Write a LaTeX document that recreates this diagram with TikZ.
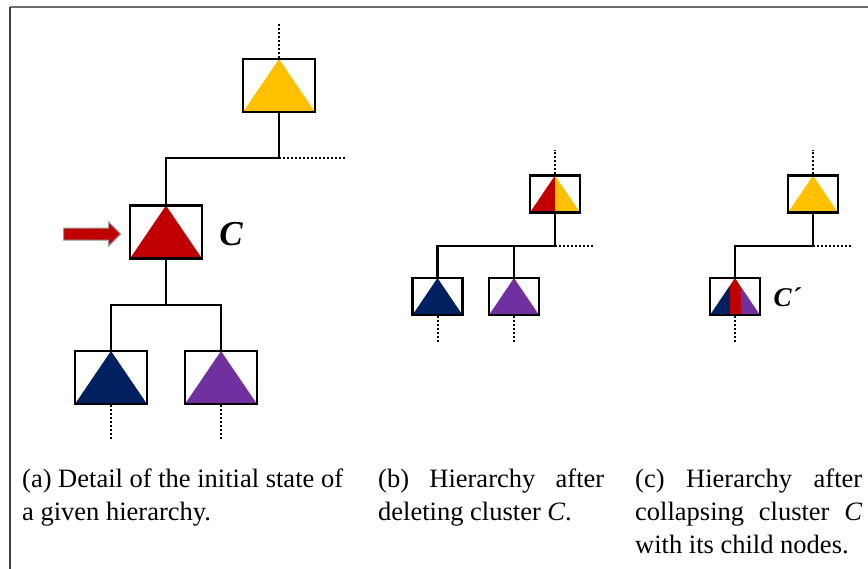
\documentclass[tikz,border=0pt]{standalone}
\usepackage{fontspec}
\setmainfont{Liberation Serif}
\definecolor{clYellow}{HTML}{FFC000}
\definecolor{clRed}{HTML}{C00000}
\definecolor{clBlue}{HTML}{002060}
\definecolor{clPurple}{HTML}{7030A0}

\tikzset{
  box/.style={draw=black, line width=#1, fill=white, inner sep=0pt},
  bigbox/.style={box=2.8pt, minimum width=72pt, minimum height=53pt},
  smallbox/.style={box=2.3pt, minimum width=50pt, minimum height=37pt},
  tri/.style={path picture={
      \fill[#1] (path picture bounding box.south west) -- (path picture bounding box.south east)
        -- (path picture bounding box.north) -- cycle;}},
  trisplit/.style={path picture={
      \fill[clRed] (path picture bounding box.south west) -- (path picture bounding box.south)
        -- (path picture bounding box.north) -- cycle;
      \fill[clYellow] (path picture bounding box.south) -- (path picture bounding box.south east)
        -- (path picture bounding box.north) -- cycle;}},
  trimerged/.style={path picture={
      \begin{scope}
        \clip (path picture bounding box.south west) -- (path picture bounding box.south east)
          -- (path picture bounding box.north) -- cycle;
        \fill[clBlue] (path picture bounding box.south west) rectangle ([xshift=-5pt]path picture bounding box.north);
        \fill[clRed] ([xshift=-5pt]path picture bounding box.south) rectangle ([xshift=6pt]path picture bounding box.north);
        \fill[clPurple] ([xshift=6pt]path picture bounding box.south) rectangle (path picture bounding box.north east);
      \end{scope}}},
  edgeA/.style={line width=2.8pt, line cap=rect},
  edgeB/.style={line width=2.3pt, line cap=rect},
  dotline/.style={line width=2pt, dash pattern=on 2pt off 2pt},
  blockarrow/.style={fill=clRed, draw=gray!80, line width=1pt, line join=miter},
  captext/.style={anchor=base west, inner sep=0pt, font=\fontsize{26.5}{33}\selectfont},
  frameline/.style={line width=1.6pt}
}

\begin{document}
\begin{tikzpicture}[x=1pt, y=-1pt]
  \useasboundingbox (0,0) rectangle (868,568);
  \fill[white] (0,0) rectangle (868,568);

  % outer frame
  \draw[frameline, gray!85!black] (10,7) -- (880,7);
  \draw[frameline, black!75] (10,7) -- (10,580);

  % ---------- (a) initial hierarchy ----------
  \coordinate (aUp) at (279,22);
  \coordinate (aJ1) at (279,158);
  \coordinate (aOut) at (345,158);
  \coordinate (aJ2) at (166,305);

  \node[bigbox, tri=clYellow] (aTop) at (279,85.5) {};
  \node[bigbox, tri=clRed] (aC) at (166,232) {};
  \node[bigbox, tri=clBlue] (aL) at (111,377.5) {};
  \node[bigbox, tri=clPurple] (aR) at (221,377.5) {};
  \coordinate (aLdown) at (111,441);
  \coordinate (aRdown) at (221,441);

  \draw[dotline] (aTop.north) -- (aUp);
  \draw[edgeA] (aTop.south) -- (aJ1) -| (aC.north);
  \draw[dotline] (aJ1) -- (aOut);
  \draw[edgeA] (aC.south) -- (aJ2);
  \draw[edgeA] (aL.north) |- (aJ2) -| (aR.north);
  \draw[dotline] (aL.south) -- (aLdown);
  \draw[dotline] (aR.south) -- (aRdown);

  % block arrow pointing at cluster C
  \coordinate (tip) at ([xshift=-8pt, yshift=-2pt]aC.west);
  \draw[blockarrow] (tip) -- ++(-12,-12) -- ++(0,6) -- ++(-45,0) -- ++(0,12)
    -- ++(45,0) -- ++(0,6) -- cycle;
  \node[font=\fontsize{35}{35}\selectfont\bfseries\itshape] (labC) at (231,234) {C};

  % ---------- (b) after deleting C ----------
  \coordinate (bUp) at (555,150);
  \coordinate (bJ) at (555,246);
  \coordinate (bOut) at (593,246);
  \node[smallbox, trisplit] (bTop) at (555,194) {};
  \node[smallbox, tri=clBlue] (bL) at (437.5,296.5) {};
  \node[smallbox, tri=clPurple] (bR) at (514,296.5) {};
  \coordinate (bLdown) at (437.5,342);
  \coordinate (bRdown) at (514,342);

  \draw[dotline] (bTop.north) -- (bUp);
  \draw[edgeB] (bTop.south) -- (bJ) -| (bL.north);
  \draw[edgeB] (bR.north) -- (bR.north |- bJ);
  \draw[dotline] (bJ) -- (bOut);
  \draw[dotline] (bL.south) -- (bLdown);
  \draw[dotline] (bR.south) -- (bRdown);

  % ---------- (c) after collapsing C ----------
  \coordinate (cUp) at (813,150);
  \coordinate (cJ) at (813,246);
  \coordinate (cOut) at (852,246);
  \node[smallbox, tri=clYellow] (cTop) at (813,194) {};
  \node[smallbox, trimerged] (cC) at (735,296.5) {};
  \coordinate (cDown) at (735,342);

  \draw[dotline] (cTop.north) -- (cUp);
  \draw[edgeB] (cTop.south) -- (cJ) -| (cC.north);
  \draw[dotline] (cJ) -- (cOut);
  \draw[dotline] (cC.south) -- (cDown);
  \node[font=\fontsize{27}{27}\selectfont\bfseries\itshape] (labCc) at (787,297) {C´};

  % ---------- captions ----------
  \node[captext] (capA1) at (22,487) {(a) Detail of the initial state of};
  \node[captext] (capA2) at (22,520) {a given hierarchy.};
  \node[captext] (capB1) at (378,487) {\makebox[226pt][s]{(b) Hierarchy after}};
  \node[captext] (capB2) at (378,520) {deleting cluster \textit{C}.};
  \node[captext] (capC1) at (635,487) {\makebox[227pt][s]{(c) Hierarchy after}};
  \node[captext] (capC2) at (635,520) {\makebox[227pt][s]{collapsing cluster \textit{C}}};
  \node[captext] (capC3) at (635,553) {with its child nodes.};
\end{tikzpicture}
\end{document}
